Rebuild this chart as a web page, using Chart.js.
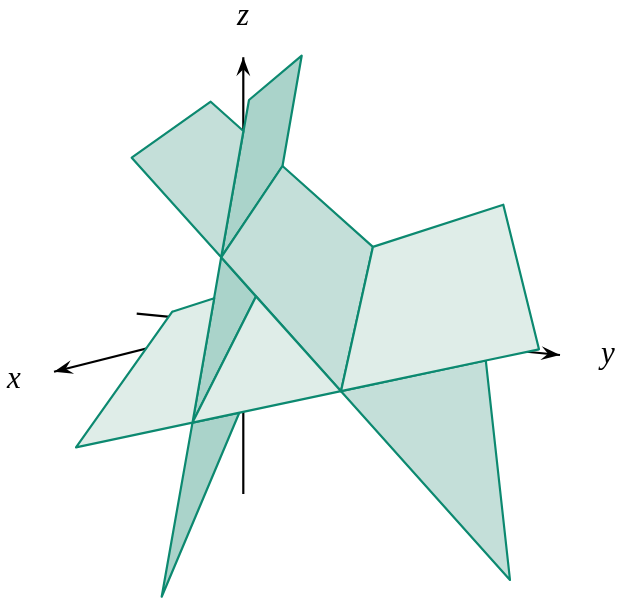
<!DOCTYPE html>
<html>
<head>
<meta charset="utf-8">
<script src="https://cdn.jsdelivr.net/npm/chart.js@4.4.1/dist/chart.umd.min.js"></script>
<style>
	html, body { margin: 0; padding: 0; background: #fff; }
	#wrap { width: 622px; height: 600px; }
</style>
</head>
<body>
<div id="wrap"><canvas id="planes-chart"></canvas></div>
<script>
// visible pieces of the three planes, in picture units (x right, y down)
const lightLeft = [[172.3, 311.7], [214.2, 298.2], [192.5, 422.6], [76, 447.3]];
const lightMid = [[192.5, 422.6], [256, 296.5], [341, 391.2]];
const lightRight = [[372.9, 246.9], [503.3, 204.7], [539, 349.3], [485.8, 360.5], [341, 391.2]];
const mediumTop = [[131.7, 157.7], [210.7, 101.7], [243.4, 131], [221.2, 257.3]];
const mediumCenter = [[221.2, 257.3], [282.5, 166], [372.9, 246.9], [341, 391.2]];
const mediumLow = [[341, 391.2], [485.8, 360.5], [510, 580]];
const darkTop = [[249, 100], [301.7, 55.7], [282.5, 166], [221.2, 257.3]];
const darkMid = [[221.2, 257.3], [256, 296.5], [192.5, 422.6]];
const darkLow = [[192.5, 422.6], [239.3, 412.7], [161.7, 596.7]];

// axes: from start to arrow tip
const zAxis = [[243.3, 494], [243.3, 57.3]];
const xAxis = [[243.3, 324.1], [54, 371.7]];
const yAxis = [[136.7, 313.7], [560, 355]];

const axisLabels = ["x", "y", "z"];
const labelSpots = [[14, 388], [608, 363], [243, 25]];

const strokeColor = "rgb(12, 137, 112)";
const lightFill = "rgb(223, 237, 232)";
const mediumFill = "rgb(196, 223, 217)";
const darkFill = "rgb(170, 211, 202)";

const toPoints = (arr) => arr.map(([x, y]) => ({ x, y }));

const plane = (pts, color) => ({
	data: toPoints(pts.concat([pts[0]])),
	borderColor: strokeColor,
	backgroundColor: color,
	borderWidth: 2.2,
	borderJoinStyle: "round",
	borderCapStyle: "round",
	fill: "shape",
	pointRadius: 0,
	tension: 0,
	order: 0,
});

const axis = (pts) => ({
	data: toPoints(pts),
	borderColor: "#000",
	borderWidth: 2.2,
	fill: false,
	pointRadius: 0,
	tension: 0,
	order: 1,
	arrow: true,
});

const arrowsAndLabels = {
	id: "arrowsAndLabels",
	afterDatasetsDraw(chart) {
		const ctx = chart.ctx;
		const xs = chart.scales.x;
		const ys = chart.scales.y;
		chart.data.datasets.forEach((ds) => {
			if (!ds.arrow) return;
			const n = ds.data.length;
			const a = ds.data[n - 2];
			const b = ds.data[n - 1];
			const x0 = xs.getPixelForValue(a.x), y0 = ys.getPixelForValue(a.y);
			const x1 = xs.getPixelForValue(b.x), y1 = ys.getPixelForValue(b.y);
			const ang = Math.atan2(y1 - y0, x1 - x0);
			ctx.save();
			ctx.translate(x1, y1);
			ctx.rotate(ang);
			ctx.fillStyle = "#000";
			ctx.beginPath();
			ctx.moveTo(0, 0);
			ctx.lineTo(-19, -7);
			ctx.lineTo(-12, 0);
			ctx.lineTo(-19, 7);
			ctx.closePath();
			ctx.fill();
			ctx.restore();
		});
		ctx.save();
		ctx.fillStyle = "#000";
		ctx.font = "italic 31px 'Liberation Serif', 'DejaVu Serif', serif";
		ctx.textAlign = "center";
		ctx.textBaseline = "alphabetic";
		axisLabels.forEach((t, i) => {
			ctx.fillText(t, xs.getPixelForValue(labelSpots[i][0]), ys.getPixelForValue(labelSpots[i][1]));
		});
		ctx.restore();
	},
};

const ctx = document.getElementById("planes-chart");

new Chart(ctx, {
	type: "line",
	data: {
		datasets: [
			plane(lightLeft, lightFill),
			plane(lightMid, lightFill),
			plane(lightRight, lightFill),
			plane(mediumTop, mediumFill),
			plane(mediumCenter, mediumFill),
			plane(mediumLow, mediumFill),
			plane(darkTop, darkFill),
			plane(darkMid, darkFill),
			plane(darkLow, darkFill),
			axis(zAxis),
			axis(xAxis),
			axis(yAxis),
		],
	},
	options: {
		responsive: true,
		maintainAspectRatio: false,
		animation: false,
		events: [],
		layout: { padding: 0 },
		scales: {
			x: { type: "linear", min: 0, max: 622, display: false },
			y: { type: "linear", min: 0, max: 600, reverse: true, display: false },
		},
		plugins: {
			legend: { display: false },
			tooltip: { enabled: false },
		},
	},
	plugins: [arrowsAndLabels],
});
</script>
</body>
</html>
